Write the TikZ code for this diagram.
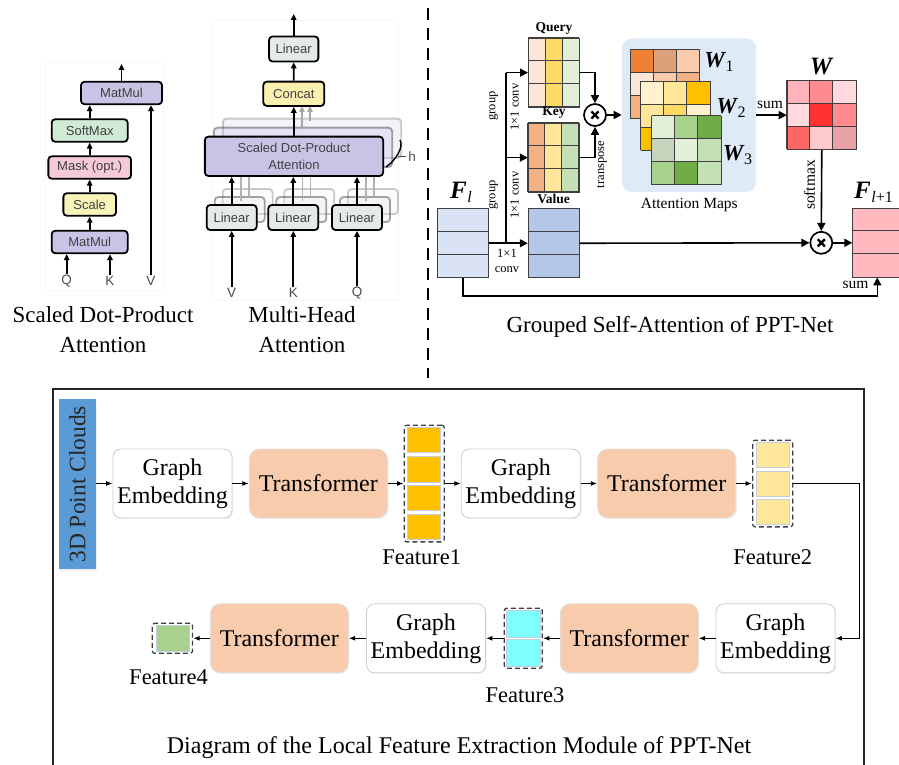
\documentclass[tikz,border=0pt]{standalone}
\usepackage{fontspec}
\usepackage{amsmath}
\setmainfont{Liberation Serif}
\setsansfont{Liberation Sans}
\usetikzlibrary{arrows.meta,calc,shadows}

\newcommand{\fsz}[2]{\fontsize{#1}{#2}\selectfont}

% box fills
\definecolor{lav}{HTML}{CBC3E6}
\definecolor{smgreen}{HTML}{D0EAD6}
\definecolor{maskpink}{HTML}{F5C9DA}
\definecolor{scaleyel}{HTML}{F8F3B7}
\definecolor{lingray}{HTML}{E4EAE8}
\definecolor{concatyel}{HTML}{F9EFAF}
\definecolor{flblue}{HTML}{DAE3F3}
\definecolor{valblue}{HTML}{B4C7E7}
\definecolor{outpink}{HTML}{FFB9BF}
\definecolor{mapbg}{HTML}{DEEAF6}
\definecolor{gridc}{HTML}{3F3F3F}
\definecolor{pcblue}{HTML}{5B9BD5}
\definecolor{trorange}{HTML}{F8CBAD}
\definecolor{f1c}{HTML}{FFC000}
\definecolor{f2c}{HTML}{FFE699}
\definecolor{f3c}{HTML}{80FFFF}
\definecolor{f4c}{HTML}{A9D18E}
\definecolor{sepc}{HTML}{C3CFDC}
% matrix cells
\definecolor{qa}{HTML}{FBE5D6}\definecolor{qb}{HTML}{FFD966}\definecolor{qc}{HTML}{E2F0D9}
\definecolor{ka}{HTML}{F4B183}\definecolor{kb}{HTML}{FFE699}\definecolor{kc}{HTML}{C5E0B4}
\definecolor{oa}{HTML}{EE7F33}\definecolor{ob}{HTML}{DCA07B}\definecolor{oc}{HTML}{F8CBAD}
\definecolor{od}{HTML}{FBE5D6}\definecolor{oe}{HTML}{F4B183}
\definecolor{ya}{HTML}{FFF2CC}\definecolor{yb}{HTML}{FFE699}\definecolor{yc}{HTML}{FFC000}
\definecolor{yd}{HTML}{FFD966}
\definecolor{ga}{HTML}{E2F0D9}\definecolor{gb}{HTML}{A9D18E}\definecolor{gc}{HTML}{70AD47}
\definecolor{gd}{HTML}{C9D4BE}\definecolor{ge}{HTML}{C5E0B4}
\definecolor{ra}{HTML}{FFB3BA}\definecolor{rb}{HTML}{FF8B8F}\definecolor{rc}{HTML}{FFD9DE}
\definecolor{rd}{HTML}{FF3333}\definecolor{re}{HTML}{FF6666}\definecolor{rf}{HTML}{FFCACD}
\definecolor{rg}{HTML}{E8A1A7}

% 3x3 coloured grid: x, y (top left), cell width, cell height, colours row by row
\newcommand{\mgrid}[5]{%
  \foreach \cc [count=\i from 0] in {#5} {%
    \pgfmathtruncatemacro\cx{mod(\i,3)}%
    \pgfmathtruncatemacro\cy{floor(\i/3)}%
    \fill[\cc] ({#1+\cx*#3},{#2+\cy*#4}) rectangle ++(#3,#4);
  }%
  \foreach \k in {0,1,2,3} {%
    \draw[gridl] ({#1+\k*#3},#2) -- ++(0,{3*#4});
    \draw[gridl] (#1,{#2+\k*#4}) -- ++({3*#3},0);
  }%
}

\begin{document}
\begin{tikzpicture}[x=1pt,y=-1pt,
  sdp/.style={draw=black, line width=1.8pt, rounded corners=3.5pt, inner sep=0pt,
    minimum height=22.5pt, font=\sffamily\fsz{13}{15}, text=black!75},
  inlbl/.style={font=\sffamily\fsz{13.5}{15}, text=black!70, inner sep=1pt},
  larr/.style={line width=1.8pt, -{Triangle[length=6pt,width=5.5pt]}},
  rarr/.style={line width=1.6pt, -{Triangle[length=8pt,width=8pt]}},
  barr/.style={line width=1.3pt, -{Latex[length=6.5pt,width=5pt]}},
  gridl/.style={draw=gridc, line width=0.9pt},
  mulc/.style={circle, draw, line width=1.7pt, fill=white, minimum size=22pt, inner sep=0pt,
    path picture={\draw[line width=2.4pt]
      ([shift={(-3.6pt,-3.6pt)}]path picture bounding box.center) -- ++(7.2pt,7.2pt)
      ([shift={(-3.6pt,3.6pt)}]path picture bounding box.center) -- ++(7.2pt,-7.2pt);}},
  ttl/.style={font=\fsz{23}{30}, align=center},
  small/.style={font=\fsz{12.5}{13}, inner sep=0pt},
  mid/.style={font=\fsz{15.5}{16}, inner sep=0pt},
  lab/.style={font=\bfseries\fsz{13.5}{14}, inner sep=0pt},
  embb/.style={draw=black!20, line width=0.8pt, fill=white, rounded corners=8pt,
    minimum width=119pt, minimum height=69pt, align=center, inner sep=0pt,
    font=\fsz{24}{28}, drop shadow={opacity=0.12, shadow xshift=1.2pt, shadow yshift=-1.2pt}},
  trb/.style={embb, fill=trorange, draw=black!12, rounded corners=10pt, minimum width=138pt},
  featb/.style={draw=black!75, dash pattern=on 5pt off 3pt, line width=1.3pt,
    rounded corners=2.5pt, inner sep=0pt},
  flab/.style={font=\fsz{22.5}{24}, inner sep=0pt},
]
\useasboundingbox (0,0) rectangle (899,765);

% ---------- Scaled Dot-Product Attention ----------
\draw[black!3, line width=0.6pt] (45,62) rectangle (163,290);
\node[sdp, fill=lav, minimum width=81pt] (mmtop) at (121.5,93) {MatMul};
\node[sdp, fill=smgreen, minimum width=76pt] (soft) at (89.7,130.5) {SoftMax};
\node[sdp, fill=maskpink, minimum width=82.7pt] (mask) at (89.7,167.5) {Mask (opt.)};
\node[sdp, fill=scaleyel, minimum width=52.7pt] (scl) at (89.7,204.5) {Scale};
\node[sdp, fill=lav, minimum width=76pt] (mmbot) at (89.7,242) {MatMul};
\node[inlbl] (sq) at (66.7,281) {Q};
\node[inlbl] (sk) at (110,281) {K};
\node[inlbl] (sv) at (151,281) {V};
\coordinate (sdpout) at (121.5,64);
\draw[larr] (sq.north) -- (sq.north |- mmbot.south);
\draw[larr] (sk.north) -- (sk.north |- mmbot.south);
\draw[larr] (sv.north) -- (sv.north |- mmtop.south);
\draw[larr] (mmbot) -- (scl);
\draw[larr] (scl) -- (mask);
\draw[larr] (mask) -- (soft);
\draw[larr] (soft.north) -- (soft.north |- mmtop.south);
\draw[larr] (mmtop.north) -- (sdpout);
\node[ttl] (tsdp) at (103,330) {Scaled Dot-Product\\Attention};

% ---------- Multi-Head Attention ----------
\draw[black!3, line width=0.6pt] (212,20) rectangle (398,300);
\foreach \d/\op in {18/0.2, 9/0.35}
  \node[sdp, fill=lav, minimum width=178.3pt, minimum height=39.3pt, opacity=\op]
    (sdpaback\d) at ({294+\d},{156.3-\d}) {};
\foreach \n/\x in {1/231.7, 2/293.3, 3/357} {
  \foreach \d/\op in {16/0.2, 8/0.35}
    \node[sdp, fill=lingray, minimum width=50pt, minimum height=25pt, opacity=\op]
      (linback\n\d) at ({\x+\d},{217.5-\d}) {};
  \foreach \d in {9,17}
    \draw[line width=1.6pt, black!30] ({\x+\d},{205-\d/2}) -- ({\x+\d},176);
}
\foreach \d in {8,16}
  \draw[larr, black!35] ({294+\d},{136.7-\d}) -- ({294+\d},106);
\node[sdp, fill=lav, minimum width=178.3pt, minimum height=39.3pt, align=center,
  font=\sffamily\fsz{13}{16.5}] (sdpa) at (294,156.3) {Scaled Dot-Product\\Attention};
\node[sdp, fill=lingray, minimum width=50pt, minimum height=25pt] (lin1) at (231.7,217.5) {Linear};
\node[sdp, fill=lingray, minimum width=50pt, minimum height=25pt] (lin2) at (293.3,217.5) {Linear};
\node[sdp, fill=lingray, minimum width=50pt, minimum height=25pt] (lin3) at (357,217.5) {Linear};
\node[sdp, fill=concatyel, minimum width=61pt, minimum height=24.3pt] (concat) at (293.8,93.8) {Concat};
\node[sdp, fill=lingray, minimum width=49.3pt, minimum height=25pt] (lintop) at (293.7,49) {Linear};
\node[inlbl] (mv) at (231.7,293) {V};
\node[inlbl] (mk) at (293.3,293) {K};
\node[inlbl] (mq) at (357,293) {Q};
\node[inlbl] (hh) at (412,157) {h};
\coordinate (mhout) at (293.7,14);
\draw[larr] (mv.north) -- (lin1.south);
\draw[larr] (mk.north) -- (lin2.south);
\draw[larr] (mq.north) -- (lin3.south);
\draw[larr] (lin1.north) -- (lin1.north |- sdpa.south);
\draw[larr] (lin2.north) -- (lin2.north |- sdpa.south);
\draw[larr] (lin3.north) -- (lin3.north |- sdpa.south);
\draw[larr] (sdpa.north -| concat.south) -- (concat.south);
\draw[larr] (concat) -- (lintop);
\draw[larr] (lintop.north) -- (mhout);
\draw[line width=1.4pt] (400,140) .. controls (404,147) and (396,160) .. (386,167);
\draw[line width=1pt, black!70] (398,156) -- (406,156);
\node[ttl] (tmh) at (302,330) {Multi-Head\\Attention};

% ---------- divider ----------
\draw[line width=2pt, dash pattern=on 12pt off 8pt] (427.7,8) -- (427.7,378);

% ---------- Grouped Self-Attention ----------
\node[draw=gridc, line width=0.9pt, fill=flblue, minimum width=51pt, minimum height=69pt,
  anchor=north west, inner sep=0pt] (fl) at (437.3,208.3) {};
\draw[gridl] ($(fl.north west)+(0,23)$) -- ++(51,0);
\draw[gridl] ($(fl.north west)+(0,46)$) -- ++(51,0);
\node[draw=gridc, line width=0.9pt, fill=valblue, minimum width=51pt, minimum height=69pt,
  anchor=north west, inner sep=0pt] (val) at (527.8,208.3) {};
\draw[gridl] ($(val.north west)+(0,23)$) -- ++(51,0);
\draw[gridl] ($(val.north west)+(0,46)$) -- ++(51,0);

\mgrid{528}{37.7}{17}{23}{qa,qb,qc,qa,qb,qc,qa,qb,qc}
\node[draw=gridc, line width=0.9pt, minimum width=51pt, minimum height=69pt,
  anchor=north west, inner sep=0pt] (query) at (528,37.7) {};
\mgrid{527.8}{122.7}{17}{23}{ka,kb,kc,ka,kb,kc,ka,kb,kc}
\node[draw=gridc, line width=0.9pt, minimum width=51pt, minimum height=69pt,
  anchor=north west, inner sep=0pt] (key) at (527.8,122.7) {};

\node[lab] (lq) at (554,28) {Query};
\node[lab] (lk) at (554,113) {Key};
\node[lab] (lv) at (553.5,198.5) {Value};
\node[inner sep=0pt] (lfl) at (461,192)
  {\fsz{25}{25}\bfseries\itshape F\kern0.5pt\raisebox{-4pt}{\fsz{16}{16}\mdseries l}};

\coordinate (br) at (506,242.8);
\draw[rarr] (fl) -- (val);
\draw[rarr, -] (br) -- (br |- query.west);
\draw[rarr] (br |- query.west) -- (query.west);
\draw[rarr] (br |- key.west) -- (key.west);

\node[small, rotate=90] (g1) at (493.5,106) {group};
\node[small, rotate=90] (c1) at (514.5,107) {1×1 conv};
\node[small, rotate=90] (g2) at (493.5,195) {group};
\node[small, rotate=90] (c2) at (514.5,195) {1×1 conv};
\node[small] (c3a) at (507,253.5) {1×1};
\node[small] (c3b) at (507,269.5) {conv};

\node[mulc] (mul1) at (595,115) {};
\draw[rarr] (query.east) -| (mul1.north);
\draw[rarr] (key.east) -| (mul1.south);
\node[small, rotate=90] (tp) at (602,164.5) {transpose};

\node[fill=mapbg, rounded corners=10pt, minimum width=134.3pt, minimum height=153.4pt,
  anchor=north west, inner sep=0pt] (attn) at (621.7,38.3) {};
\draw[rarr] (mul1.east) -- (mul1.east -| attn.west);
\mgrid{630}{49.3}{23.1}{23}{oa,ob,oc,od,oc,oe,oe,oc,od}
\mgrid{640.7}{81}{23.1}{23}{ya,yb,yc,yb,yd,ya,yc,yd,yb}
\mgrid{651.7}{115.7}{23.1}{23}{ga,gb,gc,gd,ga,ge,gb,gc,ge}
\node[mid] (lam) at (689.3,205) {Attention Maps};
\node[inner sep=0pt] (lw1) at (719,61.5) {\fsz{23}{23}\bfseries\itshape W\kern1pt\raisebox{-4pt}{\fsz{16}{16}\mdseries\upshape 1}};
\node[inner sep=0pt] (lw2) at (731,108) {\fsz{23}{23}\bfseries\itshape W\kern1pt\raisebox{-4pt}{\fsz{16}{16}\mdseries\upshape 2}};
\node[inner sep=0pt] (lw3) at (737.5,155) {\fsz{23}{23}\bfseries\itshape W\kern1pt\raisebox{-4pt}{\fsz{16}{16}\mdseries\upshape 3}};

\mgrid{786.7}{80}{23.1}{23.1}{ra,rb,rc,rc,rd,rb,re,rf,rg}
\node[draw=gridc, line width=0.9pt, minimum width=69.3pt, minimum height=69.3pt,
  anchor=north west, inner sep=0pt] (wmat) at (786.7,80) {};
\node[inner sep=0pt] (lw) at (821,66.5) {\fsz{25}{25}\bfseries\itshape W};
\draw[rarr] (attn.east |- wmat.west) -- (wmat.west);
\node[mid] (ls1) at (770,104.5) {sum};

\node[mulc] (mul2) at (821.3,242.8) {};
\draw[rarr] (wmat.south) -- (mul2.north);
\node[mid, rotate=90] (lsm) at (809.5,185) {softmax};
\draw[rarr] (val.east) -- (mul2.west);

\node[draw=gridc, line width=0.9pt, fill=outpink, minimum width=70pt, minimum height=68.6pt,
  anchor=north west, inner sep=0pt] (fl1) at (852.3,207.9) {};
\draw[gridl] ($(fl1.north west)+(0,22.9)$) -- ++(70,0);
\draw[gridl] ($(fl1.north west)+(0,45.7)$) -- ++(70,0);
\node[inner sep=0pt, anchor=west] (lfl1) at (854,192)
  {\fsz{25}{25}\bfseries\itshape F\kern0.5pt\raisebox{-4pt}{\fsz{16}{16}\mdseries l\upshape +1}};
\draw[rarr] (mul2.east) -- (mul2.east -| fl1.west);

\coordinate (sumlevel) at (0,296);
\draw[rarr] (fl.south) -- (fl.south |- sumlevel) -| ([xshift=25pt]fl1.south west);
\node[mid] (ls2) at (855.5,285) {sum};
\node[font=\fsz{23}{28}] (tgsa) at (670,327) {Grouped Self-Attention of PPT-Net};

% ---------- Local Feature Extraction Module ----------
\draw[line width=2pt, black!85] (52.7,780) -- (52.7,389.3) -- (864.3,389.3) -- (864.3,780);
\node[fill=pcblue, minimum width=36.7pt, minimum height=170pt, inner sep=0pt,
  drop shadow={opacity=0.12, shadow xshift=1.2pt, shadow yshift=-1.2pt},
  font=\fsz{23.5}{24}, text=black!85] (pc) at (77.4,484.3) {\rotatebox{90}{3D Point Clouds}};

\node[embb] (ge1) at (172.5,483.5) {Graph\\Embedding};
\node[trb] (t1) at (318.3,483.5) {Transformer};
\node[featb, minimum width=40pt, minimum height=116.7pt] (f1) at (424.3,483.5) {};
\foreach \ya/\yb in {427/452, 456/482, 485.7/510.7, 514.7/539.6}
  \draw[sepc, fill=f1c, line width=1pt] (407.7,\ya) rectangle (440.9,\yb);
\node[embb] (ge2) at (520.8,483.5) {Graph\\Embedding};
\node[trb] (t2) at (666.7,483.5) {Transformer};
\node[featb, minimum width=40pt, minimum height=86.7pt] (f2) at (772.7,483.5) {};
\foreach \ya/\yb in {442.3/467.7, 471/496, 499.5/524.7}
  \draw[sepc, fill=f2c, line width=1pt] (756,\ya) rectangle (789.4,\yb);
\node[flab] (lf1) at (421.7,556.7) {Feature1};
\node[flab] (lf2) at (772.7,556.7) {Feature2};

\node[embb] (ge3) at (775.5,638.3) {Graph\\Embedding};
\node[trb] (t3) at (629.2,638.3) {Transformer};
\node[featb, minimum width=38pt, minimum height=60pt] (f3) at (523.3,638.3) {};
\foreach \ya/\yb in {610.5/637.3, 639.5/666.2}
  \draw[sepc, fill=f3c, line width=1pt] (506.5,\ya) rectangle (540.1,\yb);
\node[embb] (ge4) at (426,638.3) {Graph\\Embedding};
\node[trb] (t4) at (279.3,638.3) {Transformer};
\node[featb, minimum width=40.2pt, minimum height=30pt] (f4) at (172.4,638.3) {};
\draw[sepc, fill=f4c, line width=1pt] (156,625.7) rectangle (189.8,651);
\node[flab] (lf3) at (525,695) {Feature3};
\node[flab] (lf4) at (168.6,677) {Feature4};

\coordinate (turn) at (859.3,483.5);
\draw[barr] (pc.east |- ge1.west) -- (ge1.west);
\draw[barr] (ge1) -- (t1);
\draw[barr] (t1) -- (f1);
\draw[barr] (f1) -- (ge2);
\draw[barr] (ge2) -- (t2);
\draw[barr] (t2) -- (f2);
\draw[barr] (f2.east) -- (turn) |- (ge3.east);
\draw[barr] (ge3) -- (t3);
\draw[barr] (t3) -- (f3);
\draw[barr] (f3) -- (ge4);
\draw[barr] (ge4) -- (t4);
\draw[barr] (t4) -- (f4);

\node[font=\fsz{24}{26}] (cap) at (459,747.5) {Diagram of the Local Feature Extraction Module of PPT-Net};
\end{tikzpicture}
\end{document}
